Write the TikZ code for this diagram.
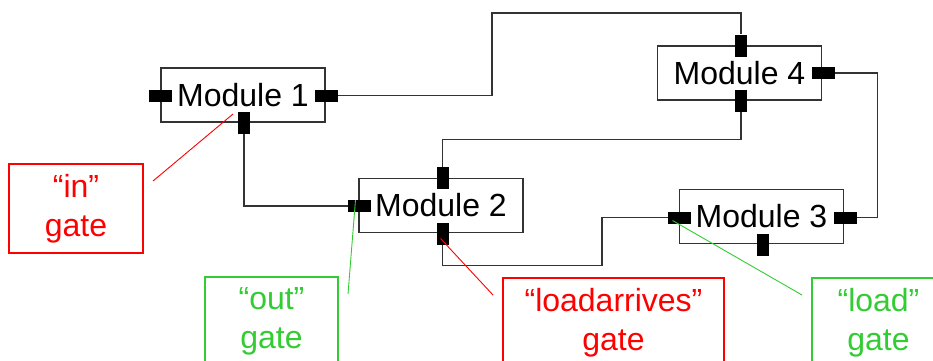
\documentclass[tikz,border=0pt]{standalone}
\usepackage{fontspec}
\setmainfont{Liberation Sans}
\usepackage{tikz}
\definecolor{gategreen}{RGB}{51,204,51}
\tikzset{modulebox/.style={rectangle,draw=black!80,line width=1.3pt,minimum width=164pt,minimum height=54pt,inner sep=0pt,font=\fontsize{32}{38.5}\selectfont}}
\tikzset{porth/.style={rectangle,fill=black,minimum width=23pt,minimum height=12pt,inner sep=0pt}}
\tikzset{portv/.style={rectangle,fill=black,minimum width=12pt,minimum height=22pt,inner sep=0pt}}
\tikzset{wire/.style={draw=black!80,line width=1.3pt}}
\tikzset{gatebox/.style={rectangle,draw,line width=1.3pt,minimum width=134pt,minimum height=89pt,inner sep=0pt,align=center,font=\fontsize{32}{38.5}\selectfont}}

\begin{document}
\begin{tikzpicture}[x=1pt,y=-1pt]
\useasboundingbox (0,0) rectangle (933,360);

% Modules
\node[modulebox] at (243,95) (m1) {Module 1};
\node[modulebox] at (739.5,73) (m4) {Module 4};
\node[modulebox] at (441,205.5) (m2) {Module 2};
\node[modulebox] at (761.5,216.5) (m3) {Module 3};

% Gates of module 1
\node[porth] at (160.5,95.5) (m1l) {};
\node[porth] at (326.5,95.5) (m1r) {};
\node[portv] at (244,123) (m1b) {};

% Gates of module 4
\node[portv] at (741,45.5) (m4t) {};
\node[portv] at (741,101) (m4b) {};
\node[porth] at (823.5,73) (m4r) {};

% Gates of module 2
\node[portv] at (442.5,178) (m2t) {};
\node[porth] at (359.5,206) (m2l) {};
\node[portv] at (442.5,233.5) (m2b) {};

% Gates of module 3
\node[porth] at (679.5,217.5) (m3l) {};
\node[porth] at (845.5,217.5) (m3r) {};
\node[portv] at (762.5,244.5) (m3b) {};

% Wires between gates
\coordinate (top) at (492,13);
\draw[wire] (m1r.east) -| (top) -| (m4t.north);
\draw[wire] (m4r.east) -- ++(42,0) |- (m3r.east);
\draw[wire] (m4b.south) -- ++(0,27) -| (m2t.north);
\draw[wire] (m1b.south) |- (m2l.west);
\draw[wire] (m2b.south) -- ++(0,21) -| ++(159.5,0) |- (m3l.west);

% Gate labels
\node[gatebox,draw=red,text=red] at (76,208.5) (inlbl) {“in”\\gate};
\node[gatebox,draw=gategreen,text=gategreen,minimum width=133pt] at (271.5,321.5) (outlbl) {“out”\\gate};
\node[gatebox,draw=red,text=red,minimum width=221pt] at (613.5,322.5) (arrlbl) {“loadarrives”\\gate};
\node[gatebox,draw=gategreen,text=gategreen,minimum width=133pt] at (878.5,322.5) (loadlbl) {“load”\\gate};

% Pointers from labels to gates
\coordinate (inend) at (153,181);
\coordinate (outend) at (348,294);
\coordinate (arrend) at (493,295);
\coordinate (loadend) at (802,295);
\draw[red,line width=0.9pt] (inend) -- ([xshift=-11pt,yshift=9pt]m1b.center);
\draw[gategreen,line width=0.9pt] (outend) -- ([xshift=-4pt,yshift=6pt]m2l.center);
\draw[red,line width=0.9pt] (arrend) -- ([xshift=-2pt,yshift=-5pt]m2b.center);
\draw[gategreen,line width=0.9pt] (loadend) -- ([xshift=-7pt,yshift=-3pt]m3l.center);

\end{tikzpicture}
\end{document}
